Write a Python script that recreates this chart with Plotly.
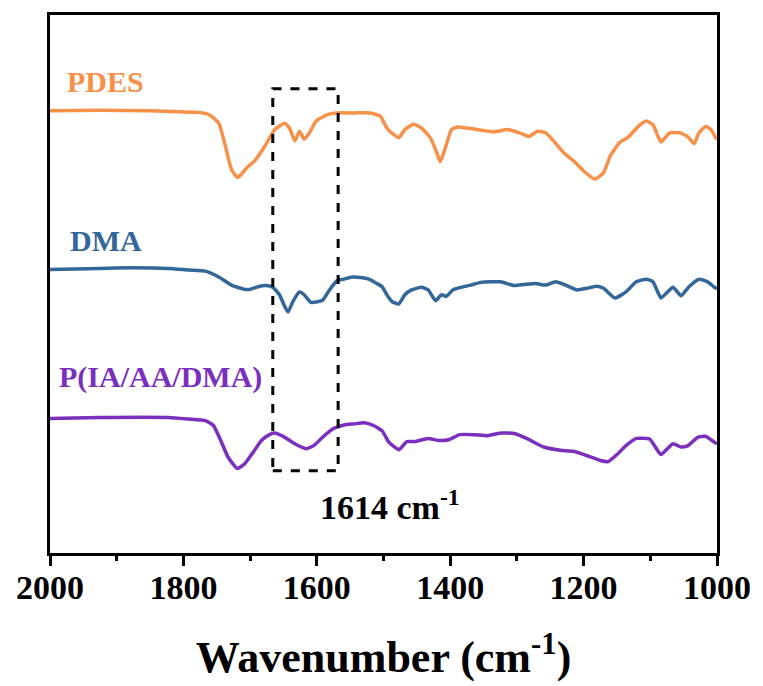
import plotly.graph_objects as go

# FTIR spectra (transmittance, vertically offset, arbitrary units)
pdes_wn = [2000, 1926, 1851, 1807, 1777, 1762, 1747, 1737, 1728, 1719, 1713, 1705, 1693, 1678,
           1663, 1648, 1641, 1633, 1626, 1619, 1611, 1601, 1584, 1569, 1544, 1520, 1505, 1495,
           1485, 1477, 1468, 1455, 1443, 1430, 1420, 1415, 1408, 1398, 1388, 1364, 1334, 1314,
           1294, 1282, 1269, 1257, 1245, 1230, 1215, 1200, 1183, 1170, 1160, 1146, 1133, 1118,
           1106, 1096, 1084, 1071, 1056, 1044, 1034, 1027, 1017, 1009, 1002, 1000]
pdes_t = [82.2, 82.3, 82.2, 82.0, 81.9, 81.5, 79.9, 75.6, 71.3, 69.8, 70.4, 71.6, 72.9, 75.6,
          78.7, 79.9, 79.0, 76.6, 78.4, 76.9, 78.1, 80.3, 81.5, 81.8, 81.8, 81.8, 81.2, 79.0,
          77.8, 77.2, 78.7, 79.7, 79.0, 77.2, 74.4, 72.7, 75.0, 78.7, 79.2, 78.8, 78.3, 78.7,
          78.0, 77.4, 78.4, 78.1, 76.6, 74.4, 72.9, 71.0, 69.5, 70.7, 73.8, 76.3, 77.3, 79.3,
          80.3, 79.6, 76.4, 78.1, 78.1, 77.4, 76.1, 78.1, 79.3, 78.7, 77.2, 76.9]

dma_wn = [2000, 1926, 1877, 1822, 1792, 1767, 1747, 1728, 1708, 1700, 1688, 1676, 1666, 1656,
          1648, 1643, 1636, 1626, 1619, 1609, 1599, 1591, 1581, 1569, 1559, 1547, 1534, 1522,
          1510, 1502, 1495, 1487, 1477, 1468, 1458, 1443, 1433, 1422, 1413, 1406, 1396, 1383,
          1369, 1354, 1339, 1324, 1304, 1289, 1272, 1257, 1242, 1227, 1210, 1195, 1180, 1170,
          1153, 1136, 1121, 1106, 1096, 1084, 1076, 1066, 1054, 1042, 1027, 1014, 1004, 1000]
dma_t = [52.7, 52.9, 53.0, 52.9, 52.6, 52.4, 51.3, 49.8, 49.0, 49.0, 49.5, 49.7, 49.4, 48.0,
         45.8, 44.8, 46.7, 48.5, 48.0, 46.6, 46.7, 47.0, 48.9, 50.7, 50.9, 51.3, 51.2, 50.9,
         50.1, 49.5, 48.0, 46.7, 46.3, 48.0, 48.9, 49.4, 48.9, 46.9, 48.0, 47.7, 48.9, 49.4,
         49.8, 50.3, 50.4, 50.4, 49.7, 49.9, 50.1, 49.8, 50.4, 49.8, 48.9, 49.2, 49.6, 49.2,
         47.4, 48.6, 50.4, 50.9, 50.4, 47.4, 48.3, 49.4, 47.8, 49.5, 50.9, 50.4, 49.4, 49.1]

poly_wn = [2000, 1926, 1822, 1792, 1767, 1755, 1745, 1733, 1719, 1708, 1695, 1683, 1671, 1663,
           1648, 1633, 1616, 1604, 1589, 1574, 1559, 1544, 1529, 1515, 1502, 1492, 1477, 1465,
           1453, 1433, 1416, 1401, 1386, 1364, 1344, 1324, 1304, 1284, 1260, 1235, 1215, 1195,
           1175, 1163, 1150, 1136, 1121, 1101, 1094, 1084, 1066, 1054, 1044, 1029, 1017, 1004, 1000]
poly_t = [25.0, 25.2, 25.2, 24.9, 24.6, 23.7, 21.2, 17.8, 15.7, 16.6, 18.8, 20.9, 22.0, 22.3,
          21.5, 20.3, 19.4, 20.0, 21.8, 23.2, 23.8, 24.0, 24.2, 23.7, 22.7, 20.6, 19.2, 20.7,
          20.7, 21.3, 20.9, 21.1, 22.0, 22.0, 21.8, 22.3, 22.2, 21.2, 19.7, 19.1, 18.9, 18.1,
          17.2, 17.0, 18.3, 20.0, 21.3, 21.2, 20.0, 18.3, 20.3, 19.7, 19.9, 21.5, 21.7, 20.6, 20.3]

series_names = ["PDES", "DMA", "P(IA/AA/DMA)"]
series_colors = ["#F7914A", "#336699", "#7B2FBE"]

# highlighted band around 1614 cm-1
box_wn = [1666, 1568]
box_t = [15.3, 86.3]
band_label = "1614 cm<sup>-1</sup>"

SERIF = "Liberation Serif, Times New Roman, serif"

fig = go.Figure()
for wn, t, name, color in zip([pdes_wn, dma_wn, poly_wn], [pdes_t, dma_t, poly_t],
                              series_names, series_colors):
    fig.add_trace(go.Scatter(x=wn, y=t, mode="lines", name=name,
                             line=dict(color=color, width=3.5, shape="spline", smoothing=0.45),
                             showlegend=False, hoverinfo="skip"))

fig.add_shape(type="rect", xref="x", yref="y", x0=box_wn[0], x1=box_wn[1],
              y0=box_t[0], y1=box_t[1], line=dict(color="black", width=3, dash="dash"))

# series labels
label_pos = [(1978, 87.6), (1973, 58.1), (1990, 32.8)]
for (lx, ly), name, color in zip(label_pos, series_names, series_colors):
    fig.add_annotation(x=lx, y=ly, xref="x", yref="y", text=f"<b>{name}</b>", showarrow=False,
                       xanchor="left", yanchor="middle",
                       font=dict(family=SERIF, size=30, color=color))

fig.add_annotation(x=1490, y=8.9, xref="x", yref="y", text=f"<b>{band_label}</b>",
                   showarrow=False, xanchor="center", yanchor="middle",
                   font=dict(family=SERIF, size=34, color="black"))

fig.update_xaxes(range=[2000, 1000], showline=True, linecolor="black", linewidth=3, mirror=True,
                 ticks="outside", ticklen=10, tickwidth=3, tickcolor="black",
                 tickvals=[2000, 1800, 1600, 1400, 1200, 1000],
                 minor=dict(ticks="outside", ticklen=5, tickwidth=3, tickcolor="black",
                            tickvals=[1900, 1700, 1500, 1300, 1100]),
                 tickfont=dict(family=SERIF, size=34, color="black", weight="bold"),
                 ticklabelstandoff=-8,
                 showgrid=False, zeroline=False,
                 title=dict(text="<b>Wavenumber (cm<sup>-1</sup>)</b>", standoff=37,
                            font=dict(family=SERIF, size=44, color="black")))
fig.update_yaxes(range=[0, 100], showline=True, linecolor="black", linewidth=3, mirror=True,
                 showticklabels=False, ticks="", showgrid=False, zeroline=False)

fig.update_layout(width=763, height=686, margin=dict(l=50, r=36, t=13, b=131),
                  plot_bgcolor="white", paper_bgcolor="white",
                  font=dict(family=SERIF, color="black"))

fig.write_html("out.html")
